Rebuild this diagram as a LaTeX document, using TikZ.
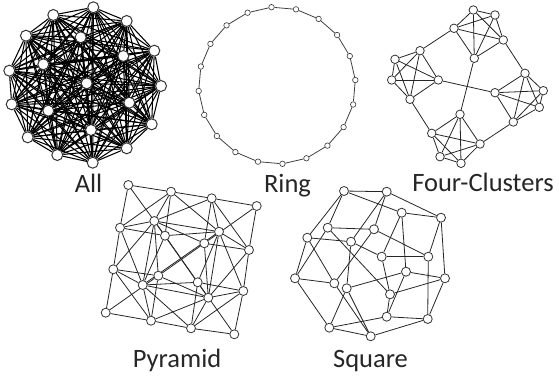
\documentclass[tikz,border=0pt]{standalone}
\usepackage{fontspec}
\setmainfont{Carlito}
\usetikzlibrary{positioning}
\pgfdeclarelayer{bg}
\pgfsetlayers{bg,main}

\begin{document}
\begin{tikzpicture}[x=1pt,y=-1pt,
  vx/.style={circle,draw=black!80,fill=white,inner sep=0pt,line width=0.8pt},
  allv/.style={vx,minimum size=11pt,line width=1pt},
  ringv/.style={vx,minimum size=5.5pt,line width=0.6pt},
  fcv/.style={vx,minimum size=8.5pt},
  gridv/.style={vx,minimum size=9pt},
  alle/.style={line width=1.05pt,black},
  ringe/.style={line width=0.8pt,black!75},
  ed/.style={line width=0.8pt,black!85},
  lbl/.style={font=\fontsize{26.5}{30}\selectfont,text=black!85,inner sep=0pt,anchor=base}
]
\useasboundingbox (0,0) rectangle (559,377);

% All
\foreach \n/\x/\y in {1/93.3/7.3, 2/53.3/15, 3/126.7/21, 4/26/35.7, 5/80.7/37.3,
    6/154.3/50.7, 7/123.3/56, 8/43.3/64.3, 9/9.3/70.7, 10/86.7/83.3,
    11/161/86, 12/11.7/104.3, 13/129.3/102.7, 14/48.3/110.7, 15/151.7/124.3,
    16/91/130, 17/27.7/137.3, 18/126.7/148.3, 19/57.3/155, 20/92.7/162.7}
  \node[allv] (a\n) at (\x,\y) {};
\begin{pgfonlayer}{bg}
  \foreach \i in {1,...,19}{
    \pgfmathtruncatemacro\nxt{\i+1}
    \foreach \j in {\nxt,...,20} \draw[alle] (a\i) -- (a\j);
  }
\end{pgfonlayer}

% Ring
\coordinate (rc) at (277,85.5);
\foreach \k in {0,...,19}
  \path (rc) ++(-94+18*\k:78.5) node[ringv] (r\k) {};
\begin{pgfonlayer}{bg}
  \foreach \k [evaluate=\k as \nk using {int(mod(\k+1,20))}] in {0,...,19}
    \draw[ringe] (r\k) -- (r\nk);
\end{pgfonlayer}

% Four-Clusters
\foreach \n/\x/\y in {ft1/473.3/10, ft2/495/15, ft3/454/28.3, ft4/503.3/40, ft5/474.3/58.3,
    fl1/420/50.7, fl2/395/59.3, fl3/391.7/80, fl4/438.3/80, fl5/410/99.3,
    fr1/525/73.3, fr2/543.3/90.7, fr3/495/92.7, fr4/539.3/107.3, fr5/513.3/122,
    fb1/460/114.3, fb2/431.7/133.3, fb3/480/144, fb4/440/156.7, fb5/461/163.3}
  \node[fcv] (\n) at (\x,\y) {};
\begin{pgfonlayer}{bg}
  \foreach \c in {ft,fl,fr,fb}
    \foreach \i/\j in {1/2,1/3,1/4,1/5,2/3,2/4,2/5,3/4,3/5,4/5}
      \draw[ed] (\c\i) -- (\c\j);
  \foreach \u/\v in {ft3/fl1, ft4/fr1, fr5/fb3, fb2/fl5, ft5/fb1, fl4/fr3}
    \draw[ed] (\u) -- (\v);
\end{pgfonlayer}

% Pyramid
\foreach \n/\x/\y in {3000/128.3/185, 2010/171/191.7, 1020/211.7/198.3, 0030/256.7/206,
    1011/154.3/221, 2001/120/227.7, 1110/219/231.7, 2100/165/235.7,
    0021/204.3/243.3, 0120/249/250, 1002/113.3/269.3, 0012/158.3/275.7,
    1101/142.7/285, 1200/197.7/282.3, 0210/243.3/291, 0111/208.3/297.7,
    0003/105.7/312.7, 0102/151/320.7, 0201/191/328.3, 0300/234.3/334.3}
  \node[gridv] (p\n) at (\x,\y) {};
\begin{pgfonlayer}{bg}
  \foreach \u/\v in {3000/2100, 2100/1200, 1200/0300, 2010/1110, 1110/0210,
      2001/1101, 1101/0201, 1020/0120, 1011/0111, 1002/0102,
      3000/2010, 2010/1020, 1020/0030, 2100/1110, 1110/0120,
      2001/1011, 1011/0021, 1200/0210, 1101/0111, 1002/0012,
      3000/2001, 2001/1002, 1002/0003, 2100/1101, 1101/0102,
      2010/1011, 1011/0012, 1200/0201, 1110/0111, 1020/0021,
      0300/0210, 0210/0120, 0120/0030, 1200/1110, 1110/1020,
      0201/0111, 0111/0021, 2100/2010, 1101/1011, 0102/0012,
      0300/0201, 0201/0102, 0102/0003, 1200/1101, 1101/1002,
      0210/0111, 0111/0012, 2100/2001, 1110/1011, 0120/0021,
      0030/0021, 0021/0012, 0012/0003, 1020/1011, 1011/1002,
      0120/0111, 0111/0102, 2010/2001, 1110/1101, 0210/0201}
    \draw[ed] (p\u) -- (p\v);
\end{pgfonlayer}

% Square
\foreach \n/\x/\y in {1/344/191, 2/386.7/191.7, 3/401.7/212.7, 4/441/217.7,
    5/327.7/227.7, 6/374/229.3, 7/307.3/237.7, 8/351/241.7,
    9/381.7/256.7, 10/428.3/256.7, 11/406/271.7, 12/445/278.3,
    13/295/278.3, 14/334.3/283.3, 15/346.7/288.3, 16/390/294.3,
    17/386.7/316.7, 18/427.7/319, 19/329.3/327.7, 20/370.7/336.3}
  \node[gridv] (s\n) at (\x,\y) {};
\begin{pgfonlayer}{bg}
  \foreach \u/\v in {1/2, 1/3, 1/7, 1/5, 2/4, 2/6, 2/8, 3/4, 3/9, 3/11,
      4/10, 4/12, 5/6, 5/13, 5/16, 6/10, 6/14, 7/8, 7/13, 7/14,
      8/15, 8/9, 9/10, 9/16, 10/18, 11/12, 11/15, 11/17, 12/18, 12/16,
      13/14, 13/19, 15/20, 14/20, 15/19, 16/17, 17/18, 17/19, 18/20, 19/20}
    \draw[ed] (s\u) -- (s\v);
\end{pgfonlayer}

% labels
\node[lbl] (lall)  at (88.5,192)  {All};
\node[lbl] (lring) at (287.5,192) {Ring};
\node[lbl] (lfour) at (483,191)   {Four-Clusters};
\node[lbl] (lpyr)  at (177,367)   {Pyramid};
\node[lbl] (lsq)   at (370.5,367) {Square};
\end{tikzpicture}
\end{document}
